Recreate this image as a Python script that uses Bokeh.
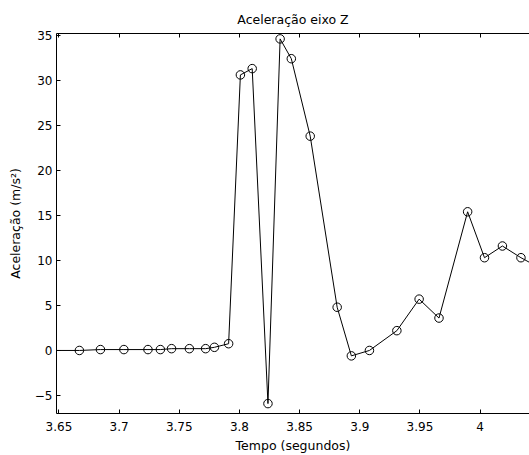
from bokeh.plotting import figure
from bokeh.models import Range1d, FixedTicker, LinearAxis
from bokeh.embed import file_html
from bokeh.resources import INLINE

# Data
tempo = [3.640, 3.667, 3.6845, 3.704, 3.724, 3.7343, 3.7436, 3.7584, 3.7719, 3.7792, 3.791,
         3.8008, 3.8106, 3.8237, 3.8338, 3.8431, 3.8588, 3.8812, 3.893, 3.908,
         3.9308, 3.9493, 3.9658, 3.9896, 4.0036, 4.0185, 4.0339, 4.049]
aceleracao = [0.0, 0.0, 0.1, 0.1, 0.1, 0.1, 0.2, 0.2, 0.2, 0.35, 0.75,
              30.6, 31.3, -5.9, 34.6, 32.4, 23.8, 4.8, -0.6, 0.0,
              2.2, 5.7, 3.6, 15.4, 10.3, 11.6, 10.3, 9.2]

x_ticks = [3.65, 3.7, 3.75, 3.8, 3.85, 3.9, 3.95, 4.0]
x_tick_labels = ["3.65", "3.7", "3.75", "3.8", "3.85", "3.9", "3.95", "4"]
y_ticks = [-5, 0, 5, 10, 15, 20, 25, 30, 35]

titulo = "Aceleração eixo Z"
rotulo_x = "Tempo (segundos)"
rotulo_y = "Aceleração (m/s²)"

FONT = "DejaVu Sans"

p = figure(width=529, height=455, output_backend="svg", toolbar_location=None,
           x_range=Range1d(3.648, 4.041), y_range=Range1d(-7, 35.2),
           min_border_left=56, min_border_right=0, min_border_top=33, min_border_bottom=42,
           background_fill_color="white", border_fill_color="white")
p.outline_line_color = None
p.grid.visible = False

p.title.text = titulo
p.title.align = "center"
p.title.text_font = FONT
p.title.text_font_size = "12.5px"
p.title.text_font_style = "normal"
p.title.text_color = "black"
p.title.standoff = 14

p.line(tempo, aceleracao, line_color="black", line_width=1)
p.scatter(tempo, aceleracao, marker="circle", size=8.5, line_color="black",
          line_width=1, fill_color=None)

def style(ax):
    ax.axis_line_color = "black"
    ax.major_tick_line_color = "black"
    ax.major_tick_in = 4
    ax.major_tick_out = 0
    ax.minor_tick_line_color = None
    ax.major_label_text_font = FONT
    ax.major_label_text_font_size = "12px"
    ax.major_label_text_color = "black"
    ax.axis_label_text_font = FONT
    ax.axis_label_text_font_size = "12.5px"
    ax.axis_label_text_font_style = "normal"
    ax.axis_label_text_color = "black"

xa = p.xaxis[0]
style(xa)
xa.ticker = FixedTicker(ticks=x_ticks)
xa.major_label_overrides = {t: l for t, l in zip(x_ticks, x_tick_labels)}
xa.axis_label = rotulo_x
xa.major_label_standoff = 8
xa.axis_label_standoff = 4

ya = p.yaxis[0]
style(ya)
ya.ticker = FixedTicker(ticks=y_ticks)
ya.axis_label = rotulo_y
ya.major_label_standoff = 4
ya.axis_label_standoff = 9

top = LinearAxis(ticker=FixedTicker(ticks=x_ticks))
style(top)
top.major_label_overrides = {t: "" for t in x_ticks}
top.major_label_standoff = 0
p.add_layout(top, "above")

open("out.html", "w").write(file_html(p, INLINE))
